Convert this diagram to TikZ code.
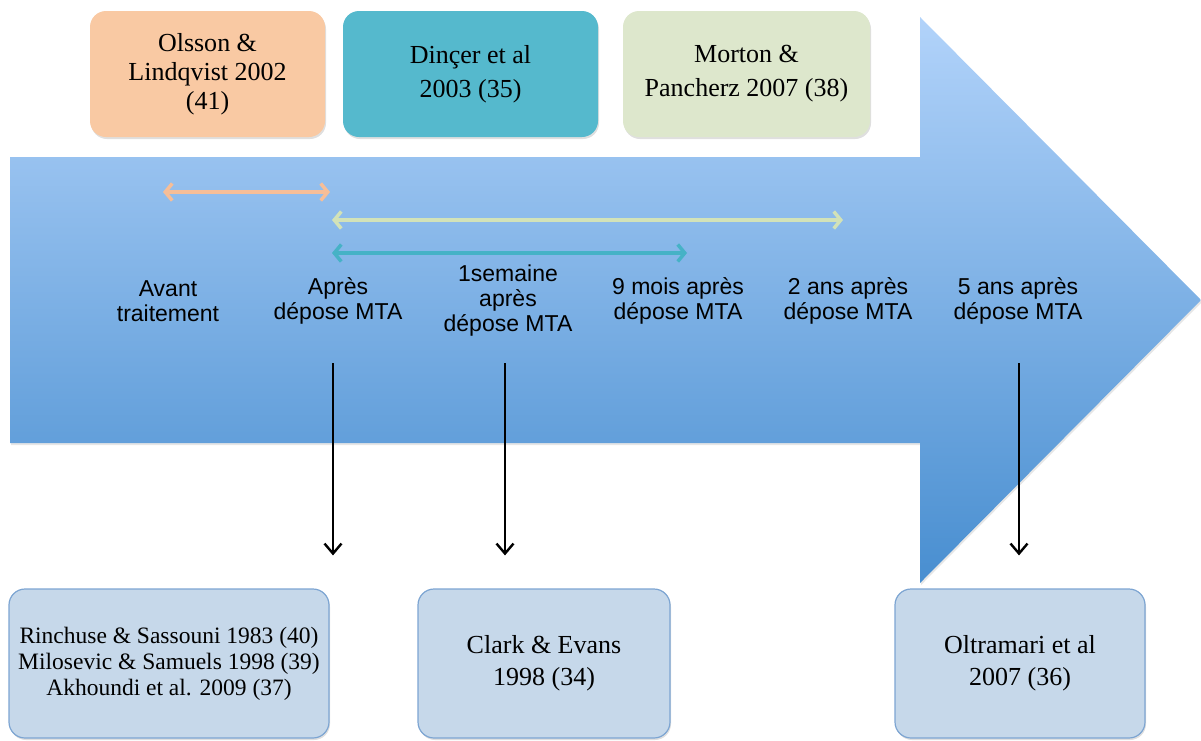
\documentclass[tikz,border=0pt]{standalone}
\usepackage{fontspec}
\setmainfont{Liberation Serif}
\setsansfont{Liberation Sans}
\usetikzlibrary{positioning,arrows.meta,shadows}

\definecolor{peach}{RGB}{249,201,163}
\definecolor{teal}{RGB}{85,185,205}
\definecolor{sage}{RGB}{221,231,204}
\definecolor{pale}{RGB}{198,216,234}
\definecolor{paleline}{RGB}{125,165,210}
\definecolor{arrtop}{RGB}{178,211,250}
\definecolor{arrbot}{RGB}{72,142,208}
\definecolor{peachline}{RGB}{246,190,152}
\definecolor{sageline}{RGB}{210,226,184}
\definecolor{tealline}{RGB}{70,178,198}

\begin{document}
\begin{tikzpicture}[x=1pt, y=1pt, node distance=170pt,
  ref/.style = {rounded corners=16pt, align=center, inner sep=0pt, minimum height=126pt,
    font=\fontsize{26}{29}\selectfont,
    drop shadow={shadow xshift=1pt, shadow yshift=-2pt, opacity=.25}},
  bot/.style = {ref, fill=pale, draw=paleline, line width=1.2pt, minimum height=149pt},
  lbl/.style = {align=center, font=\sffamily\fontsize{23}{25}\selectfont},
  span/.style = {line width=3.5pt, {Straight Barb[length=7pt,width=17pt]}-{Straight Barb[length=7pt,width=17pt]}},
  down/.style = {line width=2.4pt, -{Straight Barb[length=10pt,width=17pt]}}]
  \useasboundingbox (0,0) rectangle (1201,-740);

  % big arrow
  \shade[top color=arrtop, bottom color=arrbot,
    drop shadow={shadow xshift=1pt, shadow yshift=-2pt, opacity=.2}]
    (10,-157) -- (920,-157) -- (920,-17) -- (1201,-300) -- (920,-583)
    -- (920,-443) -- (10,-443) -- cycle;

  % studies on top
  \node[ref, fill=peach, minimum width=235pt] (olsson) at (207.5,-74) {Olsson \&\\Lindqvist 2002\\(41)};
  \node[ref, fill=teal, minimum width=255pt] (dincer) at (470.5,-74) {Dinçer et al\\[5pt]2003 (35)};
  \node[ref, fill=sage, minimum width=247pt] (morton) at (746.5,-74) {Morton \&\\[5pt]Pancherz 2007 (38)};

  % time points
  \node[lbl] (avant) at (168,-301) {Avant\\traitement};
  \node[lbl] (apres) [right of=avant] {Après\\dépose MTA};
  \node[lbl] (sem) [right of=apres] {1semaine\\après\\dépose MTA};
  \node[lbl] (neuf) [right of=sem] {9 mois après\\dépose MTA};
  \node[lbl] (deux) [right of=neuf] {2 ans après\\dépose MTA};
  \node[lbl] (cinq) [right of=deux] {5 ans après\\dépose MTA};

  % periods
  \coordinate (p1) at (163,-192);
  \coordinate (p2) at (330,-192);
  \coordinate (g1) at (332,-220);
  \coordinate (g2) at (843,-220);
  \coordinate (t1) at (332,-253);
  \coordinate (t2) at (687,-253);
  \draw[span, peachline] (p1) -- (p2);
  \draw[span, sageline] (g1) -- (g2);
  \draw[span, tealline] (t1) -- (t2);

  % studies below
  \node[bot, minimum width=320pt, font=\fontsize{23.5}{26}\selectfont] (rinch) at (169,-663.5)
    {Rinchuse \& Sassouni 1983 (40)\\Milosevic \& Samuels 1998 (39)\\Akhoundi et al. 2009 (37)};
  \node[bot, minimum width=252pt] (clark) at (544,-663.5) {Clark \& Evans\\[3pt]1998 (34)};
  \node[bot, minimum width=250pt] (oltra) at (1020,-663.5) {Oltramari et al\\[3pt]2007 (36)};

  \coordinate (d1) at (333,-363);
  \coordinate (d2) at (505,-363);
  \coordinate (d3) at (1019,-363);
  \draw[down, shorten >=33pt] (d1) -- (d1 |- rinch.north);
  \draw[down, shorten >=33pt] (d2) -- (d2 |- clark.north);
  \draw[down, shorten >=33pt] (d3) -- (d3 |- oltra.north);
\end{tikzpicture}
\end{document}
